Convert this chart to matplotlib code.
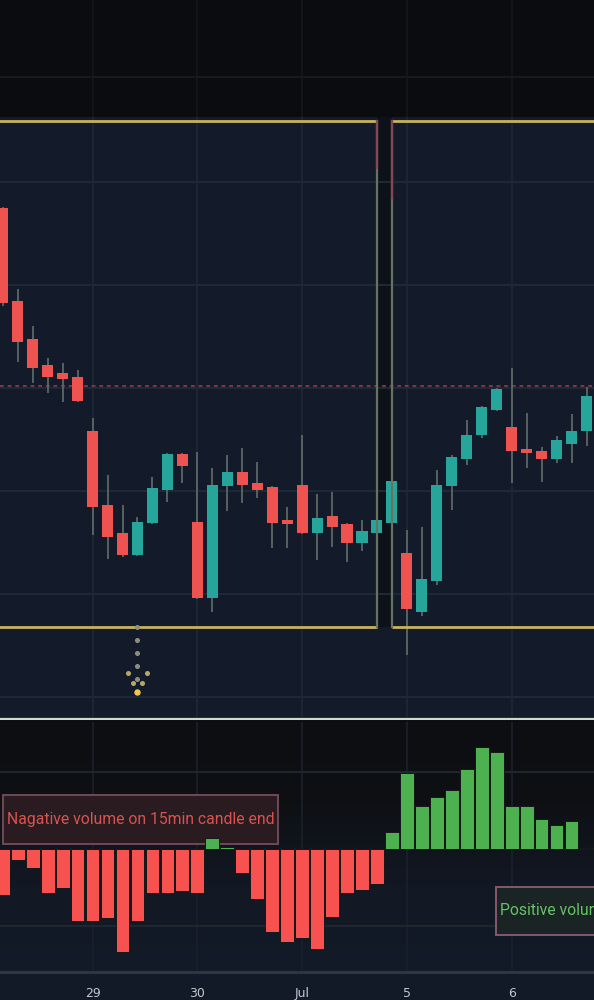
import numpy as np
import matplotlib
matplotlib.use("Agg")
import matplotlib.pyplot as plt
from matplotlib.colors import LinearSegmentedColormap
from matplotlib.lines import Line2D
from matplotlib.patches import Rectangle

# ---------------- data ----------------
opens  = [34.75, 33.84, 33.48, 33.22, 33.15, 33.11, 32.58, 31.86, 31.59, 31.38,
          31.69, 32.01, 32.36, 31.70, 30.96, 32.05, 32.18, 32.08, 32.04, 31.72,
          32.06, 31.59, 31.76, 31.68, 31.50, 31.59, 31.69, 31.40, 30.83, 31.13,
          32.05, 32.31, 32.54, 32.79, 32.62, 32.40, 32.39, 32.31, 32.46, 32.58]
highs  = [34.76, 33.96, 33.60, 33.29, 33.24, 33.17, 32.71, 32.16, 31.86, 31.75,
          32.14, 32.37, 32.37, 32.38, 32.22, 32.35, 32.42, 32.28, 32.05, 31.84,
          32.54, 31.97, 31.99, 31.69, 31.72, 31.73, 32.11, 31.62, 31.65, 32.20,
          32.35, 32.69, 32.83, 33.00, 33.19, 32.76, 32.43, 32.53, 32.75, 33.01]
lows   = [33.80, 33.25, 33.05, 32.95, 32.86, 32.86, 31.57, 31.34, 31.36, 31.37,
          31.68, 31.89, 32.08, 30.95, 30.83, 31.81, 31.88, 31.93, 31.45, 31.45,
          31.58, 31.33, 31.46, 31.31, 31.42, 31.55, 31.68, 30.41, 30.79, 31.09,
          31.82, 32.25, 32.51, 32.78, 32.08, 32.22, 32.09, 32.27, 32.27, 32.44]
closes = [33.83, 33.45, 33.19, 33.11, 33.09, 32.87, 31.84, 31.55, 31.38, 31.70,
          32.03, 32.36, 32.24, 30.96, 32.06, 32.18, 32.06, 32.01, 31.69, 31.68,
          31.59, 31.74, 31.65, 31.50, 31.61, 31.72, 32.10, 30.85, 31.15, 32.06,
          32.33, 32.54, 32.82, 32.99, 32.39, 32.37, 32.31, 32.50, 32.58, 32.92]
# volume delta on 15min candle end (K)
volumes = [-29.9, -7.1, -12.3, -28.6, -25.3, -46.8, -46.8, -44.8, -66.9, -46.8,
           -28.6, -28.6, -27.3, -28.6, 7.1, 1.3, -15.6, -32.5, -53.9, -60.4,
           -57.8, -64.9, -44.2, -28.6, -26.6, -22.7, 11.0, 49.4, 27.9, 33.8,
           38.3, 51.9, 66.2, 63.0, 27.9, 27.9, 19.5, 15.6, 18.2, 0.6]
day_ticks = [6, 13, 20, 27, 34]
day_labels = ['29', '30', 'Jul', '5', '6']
price_grid = [30, 31, 32, 33, 34, 35]
vol_grid = [-50, 50]
alert_price = 33.02
zone_top = 35.59
zone_bottom = 30.68
zone1_end = 25
zone2_start = 26
signal_idx = 9
signal_tip = 30.05
neg_label = "Nagative volume on 15min candle end"
pos_label = "Positive volume on 15min candle end"

# ---------------- style / layout ----------------
BG_MAIN = '#131b2a'
BG_TOP = '#0b0c0f'
BG_AXIS = '#121a27'
GRID = '#1f2836'
UP = '#26a69a'
DOWN = '#ef5350'
WICK = '#5c6866'
VUP = '#4db14f'
VDN = '#f7524f'
ZONE = '#c8b35c'
ZONE_SIDE = '#68725f'

XLIM = (-0.184, 39.50)
PLIM = (29.806, 35.631)
VLIM = (-79.9, 83.8)
NEG_BOX = (0.02, 3.2, 18.36, 31.9)     # x, y, w, h (volume-pane units)
POS_BOX = (32.95, -55.8, 18.36, 31.1)

fig = plt.figure(figsize=(5.94, 10), dpi=100)
fig.patch.set_facecolor(BG_AXIS)

# top (black) strip
ax_top = fig.add_axes([0, 0.883, 1, 0.117])
ax_top.set_facecolor(BG_TOP)
ax_top.set_xlim(*XLIM)
ax_top.set_ylim(0, 1)
for t in day_ticks:
    ax_top.axvline(t, color='#16181c', lw=1.2)
ax_top.axhline(0.34, color='#17191d', lw=1.5)
ax_top.set_xticks([]); ax_top.set_yticks([])
for s in ax_top.spines.values():
    s.set_visible(False)

# main candle panel
ax = fig.add_axes([0, 0.283, 1, 0.600])
ax.set_facecolor(BG_MAIN)
ax.set_xlim(*XLIM)
ax.set_ylim(*PLIM)
for t in day_ticks:
    ax.axvline(t, color=GRID, lw=1.2, zorder=1)
for p in price_grid:
    ax.axhline(p, color=GRID, lw=1.5, zorder=1)

# dark gap between zones
ax.fill_between([zone1_end, zone2_start], zone_bottom, PLIM[1], color='#0d1219', zorder=0.8, lw=0)

x = np.arange(len(opens))
o = np.array(opens); c = np.array(closes); h = np.array(highs); l = np.array(lows)
up = c >= o
body_bot = np.minimum(o, c)
body_h = np.maximum(np.abs(c - o), 0.035)
ax.vlines(x, l, h, color=WICK, lw=1.3, zorder=3)
ax.bar(x[up], body_h[up], bottom=body_bot[up], width=0.74, color=UP, zorder=4, lw=0)
ax.bar(x[~up], body_h[~up], bottom=body_bot[~up], width=0.74, color=DOWN, zorder=4, lw=0)

# alert line
ax.axhline(alert_price, color='#9c4049', lw=1.1, ls=(0, (2.5, 2.5)), zorder=2)

# zones
for xs in ([XLIM[0] - 1, zone1_end], [zone2_start, XLIM[1] + 1]):
    for yv in (zone_top, zone_bottom):
        ax.plot(xs, [yv, yv], color=ZONE, lw=2, zorder=5, solid_capstyle='butt')
ax.plot([zone1_end, zone1_end], [zone_bottom, zone_top], color=ZONE_SIDE, lw=1.6, zorder=5)
ax.plot([zone2_start, zone2_start], [zone_bottom, zone_top], color=ZONE_SIDE, lw=1.6, zorder=5)
ax.plot([zone1_end, zone1_end], [zone_top - 0.45, zone_top], color='#8a4650', lw=1.6, zorder=5)
ax.plot([zone2_start, zone2_start], [zone_top - 0.75, zone_top], color='#8a4650', lw=1.6, zorder=5)

# dotted signal arrow
shaft = np.linspace(zone_bottom, signal_tip, 6)
ax.plot(np.full(5, signal_idx), shaft[:5], ls='none', marker='o', ms=2.6,
        color='#8e8e80', zorder=6)
ax.plot([signal_idx - 0.63, signal_idx - 0.32, signal_idx + 0.32, signal_idx + 0.63],
        [signal_tip + 0.18, signal_tip + 0.09, signal_tip + 0.09, signal_tip + 0.18],
        ls='none', marker='o', ms=2.6, color='#b9a767', zorder=6)
ax.plot([signal_idx], [signal_tip], ls='none', marker='o', ms=3.6, color='#f0c84a', zorder=6)

ax.set_xticks([]); ax.set_yticks([])
for s in ax.spines.values():
    s.set_visible(False)

# separator between panes
fig.add_artist(Line2D([0, 1], [0.2825, 0.2825], color='#7a3b44', lw=0.8))
fig.add_artist(Line2D([0, 1], [0.2812, 0.2812], color='#cfd9cc', lw=1.6))
fig.add_artist(Line2D([0, 1], [0.2795, 0.2795], color='#0b0c0f', lw=1.2))

# volume panel
axv = fig.add_axes([0, 0.028, 1, 0.252])
cmap = LinearSegmentedColormap.from_list('bgv', ['#0d0e11', '#0e1014', '#121824', '#131b28'])
grad = np.linspace(0, 1, 256).reshape(-1, 1)
axv.imshow(grad, cmap=cmap, aspect='auto', extent=(0, 1, 0, 1), origin='upper',
           transform=axv.transAxes, zorder=0)
axv.set_xlim(*XLIM)
axv.set_ylim(*VLIM)
for t in day_ticks:
    axv.axvline(t, color='#1b212b', lw=1.2, zorder=1)
for v in vol_grid:
    axv.axhline(v, color='#1f2630', lw=1.5, zorder=1)
vol = np.array(volumes)
vcols = [VUP if v >= 0 else VDN for v in vol]
axv.bar(np.arange(len(vol)), vol, width=0.92, color=vcols, edgecolor='#15171a', lw=0.7, zorder=5)

# label boxes
axv.add_patch(Rectangle(NEG_BOX[:2], NEG_BOX[2], NEG_BOX[3], fc='#2a1b21', ec='#6e4a55',
                        lw=1.4, zorder=4))
axv.add_patch(Rectangle(POS_BOX[:2], POS_BOX[2], POS_BOX[3], fc='#1b2424', ec='#86586a',
                        lw=1.4, zorder=4))
label_font = dict(family=['Roboto', 'DejaVu Sans'])
t_neg = axv.text(NEG_BOX[0] + 0.27, NEG_BOX[1] + NEG_BOX[3] / 2, neg_label, ha='left', va='center',
                 fontsize=12, color='#d9534f', zorder=6, **label_font)
t_pos = axv.text(POS_BOX[0] + 0.27, POS_BOX[1] + POS_BOX[3] / 2, pos_label, ha='left', va='center',
                 fontsize=12, color='#66c266', zorder=6, **label_font)

axv.set_xticks(day_ticks)
axv.set_xticklabels(day_labels)
axv.set_yticks([])
axv.tick_params(axis='x', length=0, pad=11, colors='#c3c7ce', labelsize=9)
for k, s in axv.spines.items():
    s.set_visible(k == 'bottom')
axv.spines['bottom'].set_color('#2d3742')
axv.spines['bottom'].set_linewidth(2.2)

# fit label font so the negative label spans the same width as in the source
fig.canvas.draw()
renderer = fig.canvas.get_renderer()
w = t_neg.get_window_extent(renderer).width
fs = 12 * 266.0 / w
t_neg.set_fontsize(fs)
t_pos.set_fontsize(fs)

fig.savefig('out.png', dpi=100, facecolor=fig.get_facecolor())
